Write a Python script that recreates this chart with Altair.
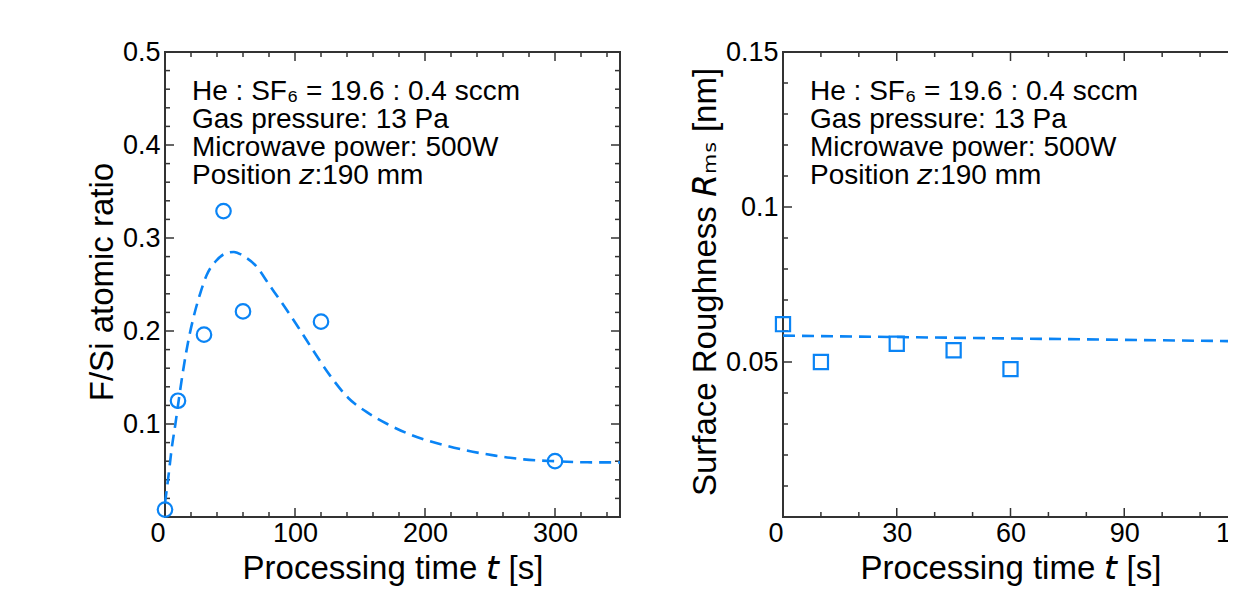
import altair as alt
import pandas as pd

FONT = "Liberation Sans, Arial, Helvetica, DejaVu Sans, sans-serif"
BLUE = "#0a84f5"
FRAME = "#333333"
W, H = 455, 465

# ---------------- left panel: F/Si atomic ratio ----------------
fsi_time = [0, 10, 30, 45, 60, 120, 300]
fsi_ratio = [0.008, 0.125, 0.196, 0.329, 0.221, 0.210, 0.060]

fsi_fit_time = [0, 3, 5, 8, 11, 14, 18, 22, 27, 32, 39, 46, 53, 61, 70, 80,
                92, 103, 114, 127, 141, 155, 171, 188, 210, 232, 254, 276,
                300, 325, 350]
fsi_fit_ratio = [0.015, 0.048, 0.072, 0.100, 0.130, 0.158, 0.190, 0.215,
                 0.240, 0.260, 0.275, 0.283, 0.285, 0.280, 0.270, 0.250,
                 0.226, 0.203, 0.179, 0.152, 0.128, 0.113, 0.100, 0.089,
                 0.079, 0.0715, 0.066, 0.062, 0.060, 0.0588, 0.0587]

fsi_x_major = [0, 100, 200, 300]
fsi_x_minor = [20, 40, 60, 80, 120, 140, 160, 180, 220, 240, 260, 280, 320, 340]
fsi_y_major = [0.1, 0.2, 0.3, 0.4, 0.5]
fsi_y_minor = [0.02, 0.04, 0.06, 0.08, 0.12, 0.14, 0.16, 0.18, 0.22, 0.24,
               0.26, 0.28, 0.32, 0.34, 0.36, 0.38, 0.42, 0.44, 0.46, 0.48]

# ---------------- right panel: surface roughness ----------------
rough_time = [0, 10, 30, 45, 60, 120]
rough_rms = [0.0622, 0.0500, 0.0559, 0.0538, 0.0477, 0.0528]
rough_fit_time = [0, 120]
rough_fit_rms = [0.0585, 0.0567]

rough_x_major = [0, 30, 60, 90, 120]
rough_x_minor = [10, 20, 40, 50, 70, 80, 100, 110]
rough_y_major = [0.05, 0.1, 0.15]
rough_y_minor = [0.01, 0.02, 0.03, 0.04, 0.06, 0.07, 0.08, 0.09,
                 0.11, 0.12, 0.13, 0.14]

notes = ["He : SF\u2086 = 19.6 : 0.4 sccm",
         "Gas pressure: 13 Pa",
         "Microwave power: 500W",
         "Position \U0001D63B:190 mm"]

x_title = "Processing time \U0001D635 [s]"
fsi_y_title = "F/Si atomic ratio"
rough_y_title = "Surface Roughness \U0001D619\u2098\u209B [nm]"

MAJOR, MINOR = 9, 5


def x_axis(values):
    return alt.Axis(values=values, format="d", ticks=False, domain=False,
                    grid=False, labelFlush=False, labelPadding=3,
                    labelAlign={"condition": {"test": "datum.value === 0", "value": "right"},
                                "value": "center"},
                    title=x_title, titleX=W / 2, titleY=61,
                    titleBaseline="alphabetic", titleAlign="center")


def y_axis(values, fmt, title, tx):
    return alt.Axis(values=values, format=fmt, ticks=False, domain=False,
                    grid=False, labelPadding=5, title=title, titleX=tx,
                    titleY=H / 2 - 3, titleAngle=270, titleAlign="center",
                    titleBaseline="alphabetic")


def panel(pts, fit, shape, size, xs, ys, xax, yax, xmaj, xmin, ymaj, ymin):
    X = lambda f: alt.X(f + ":Q", scale=xs, axis=xax)
    Y = lambda f: alt.Y(f + ":Q", scale=ys, axis=yax)
    layers = []
    for vals, ln in ((xmaj, MAJOR), (xmin, MINOR)):
        base = alt.Chart(pd.DataFrame({"t": vals})).mark_rule(color=FRAME, strokeWidth=1.5)
        layers.append(base.encode(x=X("t"), y=alt.value(H), y2=alt.value(H - ln)))
        layers.append(base.encode(x=X("t"), y=alt.value(0), y2=alt.value(ln)))
    for vals, ln in ((ymaj, MAJOR), (ymin, MINOR)):
        base = alt.Chart(pd.DataFrame({"r": vals})).mark_rule(color=FRAME, strokeWidth=1.5)
        layers.append(base.encode(y=Y("r"), x=alt.value(0), x2=alt.value(ln)))
        layers.append(base.encode(y=Y("r"), x=alt.value(W), x2=alt.value(W - ln)))
    layers.append(alt.Chart(fit).mark_line(
        color=BLUE, strokeWidth=2.6, strokeDash=[12, 7], interpolate="monotone"
    ).encode(x=X("t"), y=Y("r")))
    layers.append(alt.Chart(pts).mark_point(
        shape=shape, size=size, strokeWidth=2.2, filled=False, color=BLUE, opacity=1
    ).encode(x=X("t"), y=Y("r")))
    layers.append(alt.Chart(pd.DataFrame({"row": [0]})).mark_text(
        text=notes, align="left", baseline="alphabetic", font=FONT,
        fontSize=28, lineHeight=28, color="black"
    ).encode(x=alt.value(27), y=alt.value(48)))
    return alt.layer(*layers).properties(width=W, height=H)


left = panel(
    pd.DataFrame({"t": fsi_time, "r": fsi_ratio}),
    pd.DataFrame({"t": fsi_fit_time, "r": fsi_fit_ratio}),
    "circle", 210,
    alt.Scale(domain=[0, 350], nice=False, zero=False),
    alt.Scale(domain=[0, 0.5], nice=False, zero=False),
    x_axis(fsi_x_major), y_axis(fsi_y_major, ".1~f", fsi_y_title, -53),
    fsi_x_major, fsi_x_minor, fsi_y_major, fsi_y_minor)

right = panel(
    pd.DataFrame({"t": rough_time, "r": rough_rms}),
    pd.DataFrame({"t": rough_fit_time, "r": rough_fit_rms}),
    "square", 200,
    alt.Scale(domain=[0, 120], nice=False, zero=False),
    alt.Scale(domain=[0, 0.15], nice=False, zero=False),
    x_axis(rough_x_major), y_axis(rough_y_major, ".2~f", rough_y_title, -68),
    rough_x_major, rough_x_minor, rough_y_major, rough_y_minor)

chart = alt.hconcat(left, right, spacing=163, bounds="flush").properties(
    autosize=alt.AutoSizeParams(type="none"),
    padding={"left": 157, "top": 44, "right": 1063, "bottom": 540}
).configure_view(
    stroke=FRAME, strokeWidth=2
).configure_axis(
    labelFont=FONT, labelFontSize=27, labelColor="black",
    titleFont=FONT, titleFontSize=33, titleFontWeight="normal", titleColor="black"
)

chart.save("out.html", embed_options={"renderer": "svg", "actions": False})
